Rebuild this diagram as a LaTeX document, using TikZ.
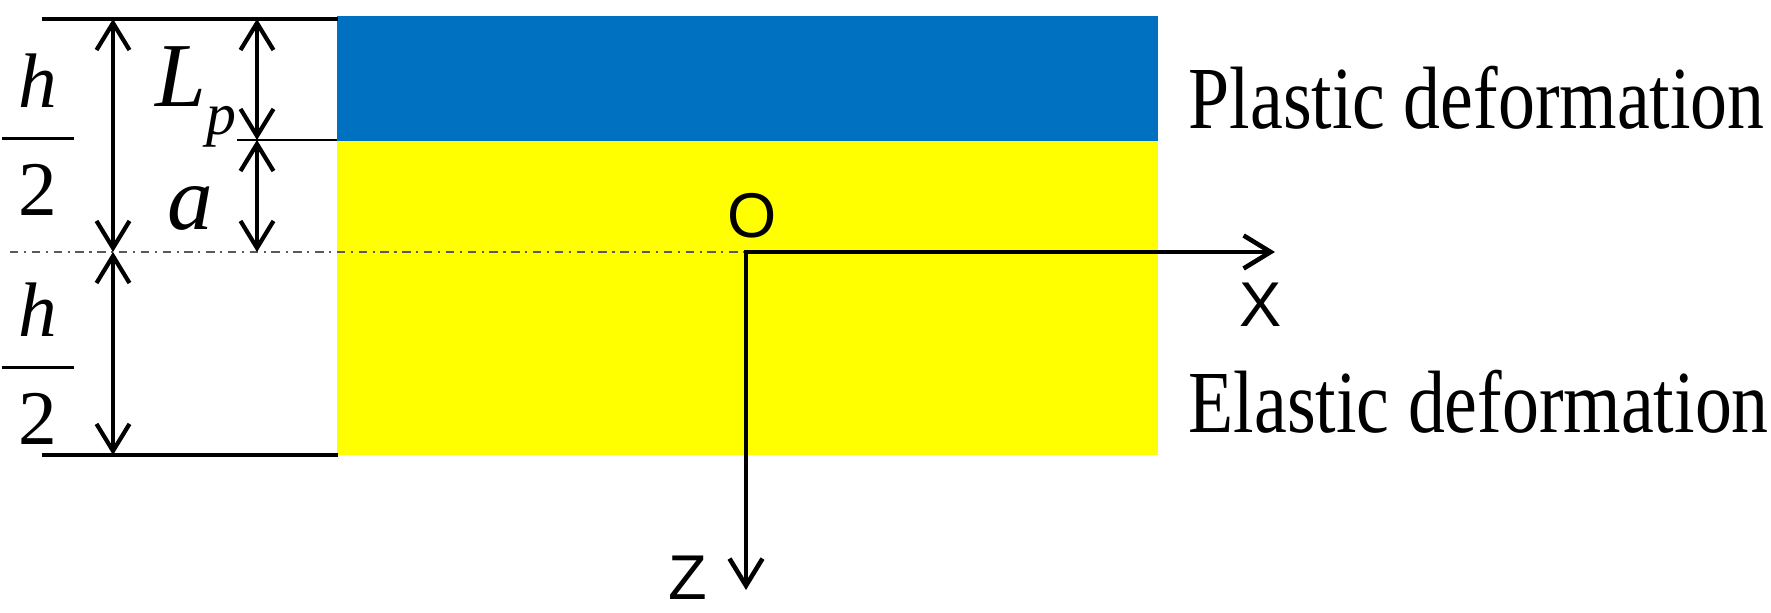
\documentclass[tikz,border=0pt]{standalone}
\usepackage{amsmath}
\usepackage{graphicx}
\usepackage{fontspec}
\setmainfont{Liberation Serif}
\newfontfamily\axisfont{Liberation Sans}
\usetikzlibrary{arrows.meta,positioning}
\definecolor{plasticblue}{RGB}{0,112,192}
\definecolor{elasticyellow}{RGB}{255,255,0}
\newcommand{\halfh}{$\dfrac{\mkern4mu\textit{h}\rule[-4pt]{0pt}{4pt}\mkern4mu}{\rule{0pt}{19pt}\textrm{2}}$}
\newcommand{\tallzone}[1]{\scalebox{1}[1.2]{#1}}
\tikzset{
  barb/.tip={Straight Barb[length=2.7mm,width=3.3mm]},
  dimarrow/.style={line width=1.2pt,barb-barb},
  axisline/.style={line width=1.3pt,barb-barb,line join=miter},
  edgeline/.style={line width=1.3pt},
  thinline/.style={line width=0.6pt},
  centreline/.style={line width=0.8pt,black!65,dash pattern=on 2.4pt off 1.6pt on 0.6pt off 1.6pt},
  symb/.style={font=\fontsize{26}{30}\selectfont},
  frac/.style={font=\fontsize{22}{26}\selectfont},
  axislabel/.style={font=\axisfont\fontsize{18}{20}\selectfont},
  zonelabel/.style={font=\fontsize{21}{24}\selectfont,anchor=base west,inner sep=0pt}
}
\begin{document}
\begin{tikzpicture}
	\useasboundingbox (0,0) rectangle (17.71,-6.13);
	\fill [elasticyellow] (3.37,-1.41) rectangle (11.58,-4.55);
	\fill [plasticblue] (3.37,-0.16) rectangle (11.58,-1.41);
	\coordinate (tl) at (0.42,-0.19);
	\coordinate (tr) at (3.38,-0.19);
	\coordinate (bl) at (0.42,-4.55);
	\coordinate (br) at (3.38,-4.55);
	\coordinate (jl) at (2.37,-1.40);
	\coordinate (jr) at (3.37,-1.40);
	\coordinate (cl) at (0.10,-2.52);
	\coordinate (O) at (7.46,-2.52);
	\coordinate (xend) at (12.75,-2.52);
	\coordinate (zend) at (7.46,-5.90);
	\coordinate (hTopA) at (1.13,-0.19);
	\coordinate (hMidA) at (1.13,-2.52);
	\coordinate (hBotA) at (1.13,-4.55);
	\coordinate (LpTop) at (2.57,-0.19);
	\coordinate (LpBot) at (2.57,-1.40);
	\coordinate (aBot) at (2.57,-2.52);
	\draw [edgeline] (tl) -- (tr);
	\draw [edgeline] (bl) -- (br);
	\draw [thinline] (jl) -- (jr);
	\draw [centreline] (cl) -- (O);
	\draw [dimarrow] (hTopA) -- (hMidA);
	\draw [dimarrow] (hMidA) -- (hBotA);
	\draw [dimarrow] (LpTop) -- (LpBot);
	\draw [dimarrow] (LpBot) -- (aBot);
	\draw [axisline] (xend) -- (O) -- (zend);
	\node [frac] (hTop) at (0.38,-1.35) {\halfh};
	\node [frac] (hBot) at (0.38,-3.64) {\halfh};
	\node [symb] (Lp) at (1.96,-0.97) {\textit{L}\raisebox{-0.3em}{\fontsize{17}{17}\selectfont\textit{p}}};
	\node [symb] (a) at (1.90,-2.08) {\textit{a}};
	\node [axislabel] (lblO) at (7.52,-2.16) {O};
	\node [axislabel] (lblX) at (12.61,-3.05) {X};
	\node [axislabel] (lblZ) at (6.88,-5.78) {Z};
	\node [zonelabel] (plastic) at (11.88,-1.29) {\tallzone{Plastic deformation}};
	\node [zonelabel] (elastic) at (11.88,-4.33) {\tallzone{Elastic deformation}};
\end{tikzpicture}
\end{document}
